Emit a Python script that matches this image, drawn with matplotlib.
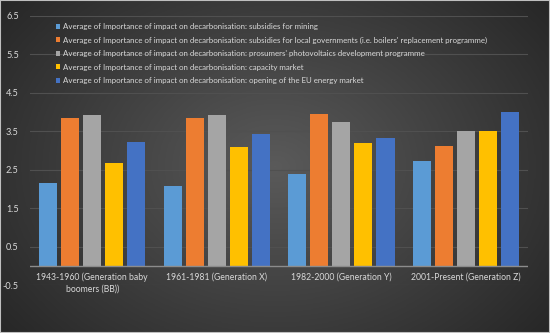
import numpy as np
import matplotlib
matplotlib.use("Agg")
import matplotlib.pyplot as plt

# groups on the x axis
groups = ["1943-1960 (Generation baby\nboomers (BB))", "1961-1981 (Generation X)",
          "1982-2000 (Generation Y)", "2001-Present (Generation Z)"]

series_names = [
    "Average of Importance of impact on decarbonisation: subsidies for mining",
    "Average of Importance of impact on decarbonisation: subsidies for local governments (i.e. boilers' replacement programme)",
    "Average of Importance of impact on decarbonisation: prosumers' photovoltaics development programme",
    "Average of Importance of impact on decarbonisation: capacity market",
    "Average of Importance of impact on decarbonisation: opening of the EU energy market",
]

mining = [2.16, 2.08, 2.40, 2.73]
local_gov = [3.85, 3.85, 3.96, 3.13]
prosumers = [3.93, 3.93, 3.75, 3.50]
capacity = [2.68, 3.10, 3.20, 3.50]
eu_market = [3.23, 3.44, 3.33, 4.01]

colors = ["#5B9BD5", "#ED7D31", "#A5A5A5", "#FFC000", "#4472C4"]
yticks = [-0.5, 0.5, 1.5, 2.5, 3.5, 4.5, 5.5, 6.5]

plt.rcParams["font.family"] = ["Lato", "DejaVu Sans"]
txt = "#D9D9D9"

fig = plt.figure(figsize=(5.5, 3.33), dpi=100)

# dark radial background
bg = fig.add_axes([0, 0, 1, 1], zorder=-10)
yy, xx = np.mgrid[-1:1:300j, -1:1:500j]
r = np.sqrt(xx**2 + (yy * 0.8)**2)
bg.imshow(r, cmap=matplotlib.colors.LinearSegmentedColormap.from_list("bg", ["#5A5A5A", "#262626"]),
          extent=[0, 1, 0, 1], aspect="auto", vmin=0, vmax=1.3)
bg.set_axis_off()
fig.patches.append(plt.Rectangle((0, 0), 1, 1, transform=fig.transFigure,
                                 fill=False, edgecolor="#BFBFBF", lw=1.5))

ax = fig.add_axes([0.0545, 0.144, 0.906, 0.808])
ax.set_facecolor("none")

all_series = [mining, local_gov, prosumers, capacity, eu_market]
x = np.arange(len(groups))
step = 0.177
for i, (vals, c, name) in enumerate(zip(all_series, colors, series_names)):
    ax.bar(x + (i - 2) * step, vals, width=0.145, color=c, label=name, zorder=3)

ax.set_xlim(-0.5, 3.5)
ax.set_ylim(-0.5, 6.5)
ax.set_yticks(yticks)
ax.set_yticklabels([f"{v}" for v in yticks])
ax.set_xticks(x)
ax.set_xticklabels(groups, fontsize=6.2, linespacing=1.3)
ax.tick_params(length=0, colors=txt)
ax.tick_params(axis="y", pad=8, labelsize=6.6)
ax.tick_params(axis="x", pad=-9)
ax.grid(axis="y", color="#505050", lw=0.8, zorder=0)
ax.axhline(0, color="#8C8C8C", lw=1, zorder=4)
for s in ax.spines.values():
    s.set_visible(False)

leg = ax.legend(loc="upper left", bbox_to_anchor=(0.045, 0.985), frameon=False,
                fontsize=5.65, labelcolor=txt, handlelength=0.6, handleheight=0.6,
                handletextpad=0.3, labelspacing=0.82, borderaxespad=0)

fig.savefig("out.png", dpi=100)
